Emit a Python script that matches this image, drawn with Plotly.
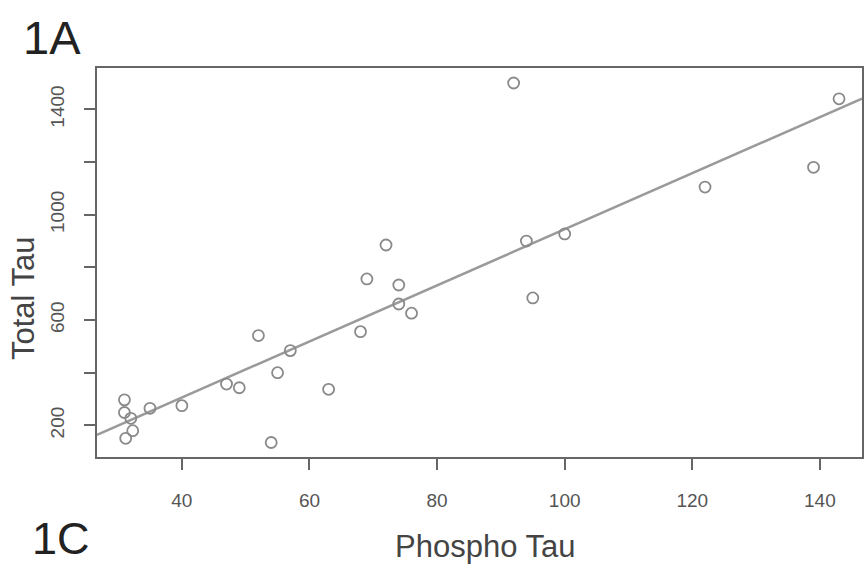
import plotly.graph_objects as go

# Data
phospho_tau = [31, 31, 32, 32.3, 31.2, 35, 40, 47, 49, 54, 52, 55, 57, 63, 68, 69, 72,
               74, 74, 76, 92, 94, 95, 100, 122, 139, 143]
total_tau = [297, 249, 227, 180, 151, 265, 275, 357, 343, 135, 541, 400, 484, 337, 556,
             756, 885, 733, 661, 626, 1500, 900, 684, 927, 1105, 1180, 1440]

# Regression line end points
fit_x = [26.7, 146.6]
fit_y = [164, 1441]

x_ticks = [40, 60, 80, 100, 120, 140]
x_tick_labels = ["40", "60", "80", "100", "120", "140"]
y_ticks = [200, 400, 600, 800, 1000, 1200, 1400]
y_tick_labels = ["200", "", "600", "", "1000", "", "1400"]

FONT = "Liberation Sans, Arial, sans-serif"
W, H = 865, 566
L, R, T, B = 97, 3, 68, 109
plot_w = W - L - R
plot_h = H - T - B


def px_to_paper(px, py):
    return (px - L) / plot_w, 1 - (py - T) / plot_h


fig = go.Figure()
fig.add_trace(go.Scatter(
    x=fit_x, y=fit_y, mode="lines",
    line=dict(color="#9a9a9a", width=2.5),
    hoverinfo="skip", showlegend=False,
))
fig.add_trace(go.Scatter(
    x=phospho_tau, y=total_tau, mode="markers",
    marker=dict(symbol="circle-open", size=11, color="#8a8a8a",
                line=dict(width=1.8, color="#8a8a8a")),
    showlegend=False,
))

axis_common = dict(
    showgrid=False, zeroline=False, showline=True, mirror=True,
    linecolor="#666666", linewidth=2,
    ticks="outside", ticklen=11, tickwidth=1.5, tickcolor="#666666",
    tickfont=dict(size=19, color="#555555"),
    automargin=False,
)

fig.update_layout(
    width=W, height=H,
    margin=dict(l=L, r=R, t=T, b=B),
    paper_bgcolor="white", plot_bgcolor="white",
    font=dict(family=FONT, color="#555555"),
    xaxis=dict(range=[26.7, 146.6], tickvals=x_ticks, ticktext=x_tick_labels,
               ticklabelstandoff=14, **axis_common),
    yaxis=dict(range=[80, 1557], tickvals=y_ticks, ticktext=y_tick_labels,
               tickangle=-90, ticklabelstandoff=12, **axis_common),
)

annots = [
    ("1A", 21, 37, 47, "#222222", 0, "left", "middle"),
    ("1C", 30, 566, 45, "#222222", 0, "left", "bottom"),
    ("Phospho Tau", 485, 566, 31, "#444444", 0, "center", "bottom"),
    ("Total Tau", 23, 298, 31, "#444444", -90, "center", "middle"),
]
for text, px, py, size, color, angle, xa, ya in annots:
    ax, ay = px_to_paper(px, py)
    fig.add_annotation(text=text, x=ax, y=ay, xref="paper", yref="paper",
                       showarrow=False, textangle=angle,
                       font=dict(size=size, color=color, family=FONT),
                       xanchor=xa, yanchor=ya)

fig.write_html(
    "out.html",
    config={"displayModeBar": False},
    post_script="document.body.style.margin='0';document.body.style.overflow='hidden';",
)
